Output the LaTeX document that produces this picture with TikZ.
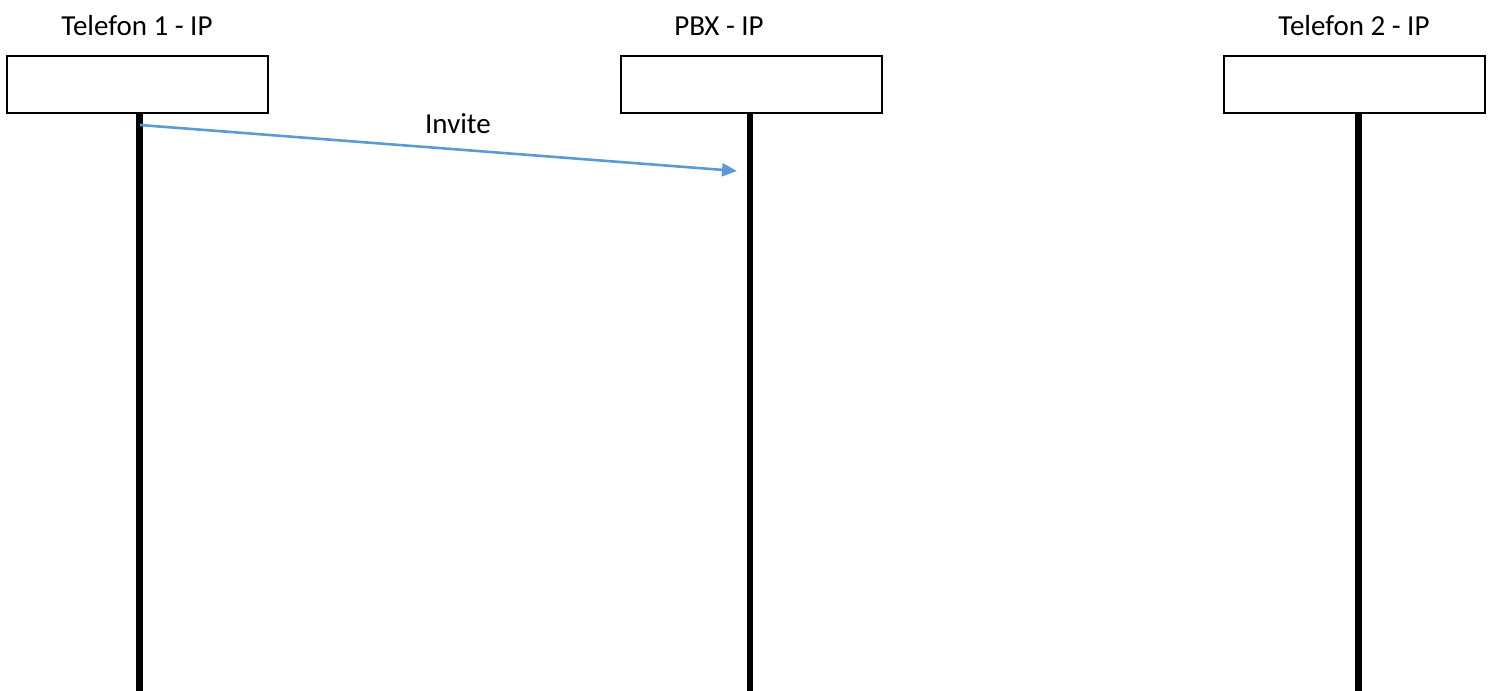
\documentclass[tikz,border=0pt]{standalone}
\usepackage{fontspec}
\setmainfont{Carlito}
\usetikzlibrary{arrows.meta}
\definecolor{msgblue}{HTML}{5B9BD5}
\tikzset{
  actorbox/.style={draw=black, line width=2pt, fill=white, minimum width=261pt, minimum height=57pt, inner sep=0pt},
  actorlabel/.style={anchor=base, inner sep=0pt, font=\fontsize{29}{35}\selectfont},
  lifeline/.style={line width=6.5pt, black},
  message/.style={msgblue, line width=2.6pt, -{Triangle[length=15pt,width=13pt]}}
}
\begin{document}
\begin{tikzpicture}[x=1pt, y=-1pt]
  \useasboundingbox (0,0) rectangle (1492,691);

  % participants
  \node[actorbox] (b1) at (137.5,84) {};
  \node[actorbox] (b2) at (751.5,84) {};
  \node[actorbox] (b3) at (1354.5,84) {};

  \node[actorlabel] (l1) at (137,35) {Telefon 1 - IP};
  \node[actorlabel] (l2) at (719,35) {PBX - IP};
  \node[actorlabel] (l3) at (1354,35) {Telefon 2 - IP};

  % lifelines
  \coordinate (e1) at (139.5,691);
  \coordinate (e2) at (750,691);
  \coordinate (e3) at (1358.5,691);
  \draw[lifeline] (b1.south -| e1) -- (e1);
  \draw[lifeline] (b2.south -| e2) -- (e2);
  \draw[lifeline] (b3.south -| e3) -- (e3);

  % Invite message
  \coordinate (m1) at (140,125);
  \coordinate (m2) at (737,171);
  \draw[message] (m1) -- (m2);
  \node[actorlabel] (inv) at (458,133) {Invite};
\end{tikzpicture}
\end{document}
